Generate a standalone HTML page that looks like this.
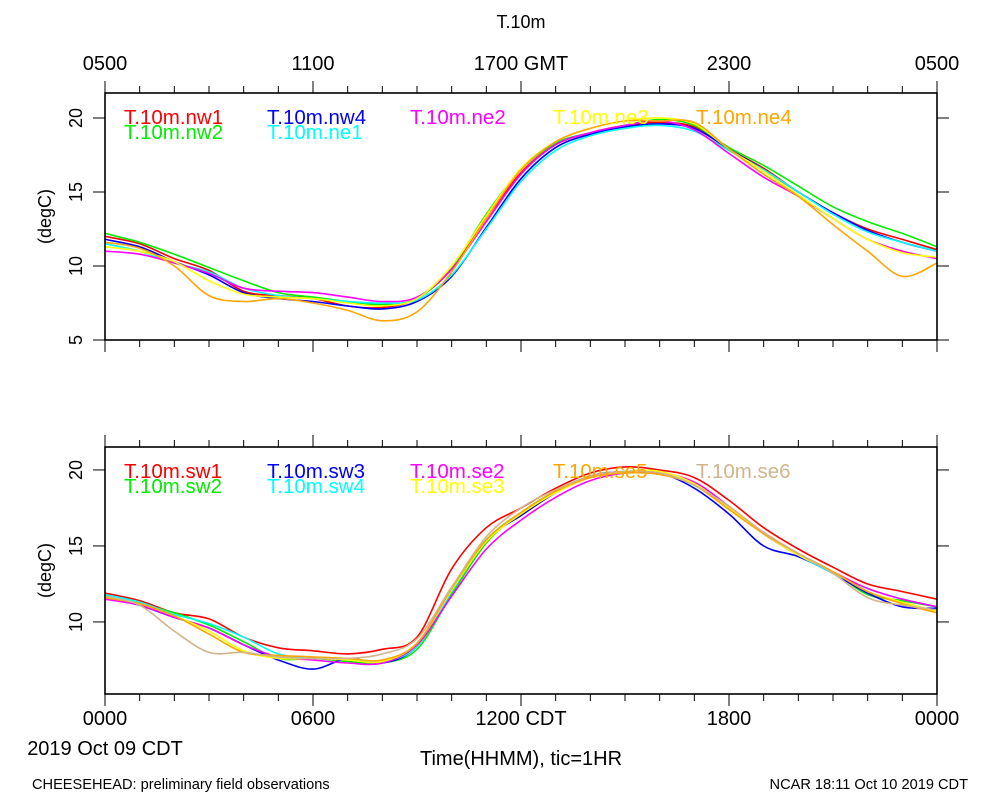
<!DOCTYPE html>
<html><head><meta charset="utf-8"><style>
html,body{margin:0;padding:0;background:#fff;}
svg{display:block;font-family:"Liberation Sans",sans-serif;}
</style></head><body>
<svg id="chart" width="1000" height="800" viewBox="0 0 1000 800">
<text x="521" y="28" font-size="18" text-anchor="middle">T.10m</text>
<text x="32" y="789" font-size="14.6">CHEESEHEAD: preliminary field observations</text>
<text x="968" y="789" font-size="14.6" text-anchor="end">NCAR 18:11 Oct 10 2019 CDT</text>
<text x="105" y="755" font-size="20" text-anchor="middle">2019 Oct 09 CDT</text>
<text x="521" y="765" font-size="20" text-anchor="middle">Time(HHMM), tic=1HR</text>
<g id="g"></g>
</svg>
<script>
const hours = [0,1,2,3,4,5,6,7,8,9,10,11,12,13,14,15,16,17,18,19,20,21,22,23,24];
const topLabels = ["0500","1100","1700 GMT","2300","0500"];
const bottomLabels = ["0000","0600","1200 CDT","1800","0000"];
const topYTicks = [5,10,15,20];
const bottomYTicks = [10,15,20];
const topNames = ["T.10m.nw1","T.10m.nw2","T.10m.nw4","T.10m.ne1","T.10m.ne2","T.10m.ne3","T.10m.ne4"];
const topColors = ["#ff0000","#00ee00","#0000ff","#00ffff","#ff00ff","#ffff00","#ffa500"];
const topLegendSlots = [[0,0],[0,1],[1,0],[1,1],[2,0],[3,0],[4,0]];
const nw1 = [12.0,11.5,10.5,9.7,8.3,8.0,7.8,7.3,7.2,7.8,9.8,13.2,16.3,18.2,19.0,19.5,19.7,19.4,17.9,16.6,15.0,13.6,12.5,11.8,11.1];
const nw2 = [12.2,11.6,10.8,9.9,9.0,8.2,7.9,7.6,7.4,7.8,9.9,13.5,16.5,18.3,19.0,19.5,19.9,19.5,18.0,16.8,15.4,14.0,13.0,12.2,11.3];
const nw4 = [11.8,11.3,10.3,9.4,8.2,7.8,7.6,7.3,7.1,7.6,9.3,12.6,15.9,18.0,18.9,19.4,19.6,19.3,17.9,16.5,15.0,13.6,12.4,11.6,11.0];
const ne1 = [11.5,11.0,10.2,9.6,8.5,8.0,7.8,7.6,7.5,7.7,9.4,12.5,15.7,17.8,18.8,19.3,19.5,19.1,17.8,16.5,15.0,13.5,12.3,11.6,11.0];
const ne2 = [11.0,10.8,10.2,9.5,8.5,8.3,8.2,7.9,7.6,7.9,9.8,13.0,16.2,18.2,19.0,19.5,19.8,19.2,17.6,16.0,14.7,13.2,11.8,11.0,10.5];
const ne3 = [11.3,11.0,10.3,9.0,8.1,7.9,7.8,7.5,7.3,7.8,10.0,13.4,16.6,18.4,19.3,19.8,20.0,19.6,17.9,16.4,14.8,13.2,11.8,10.9,10.6];
const ne4 = [11.6,11.2,10.0,8.0,7.6,7.8,7.5,7.0,6.3,6.9,9.6,13.2,16.5,18.4,19.3,19.8,19.8,19.7,17.9,16.2,14.7,12.8,11.0,9.3,10.2];
const bottomNames = ["T.10m.sw1","T.10m.sw2","T.10m.sw3","T.10m.sw4","T.10m.se2","T.10m.se3","T.10m.se5","T.10m.se6"];
const bottomColors = ["#ff0000","#00ee00","#0000ff","#00ffff","#ff00ff","#ffff00","#ffa500","#d2b48c"];
const bottomLegendSlots = [[0,0],[0,1],[1,0],[1,1],[2,0],[2,1],[3,0],[4,0]];
const sw1 = [11.9,11.4,10.6,10.2,9.0,8.3,8.1,7.9,8.2,9.0,13.5,16.2,17.5,18.8,19.8,20.2,20.0,19.5,18.0,16.2,14.8,13.6,12.5,12.0,11.5];
const sw2 = [11.7,11.2,10.6,9.8,8.7,7.6,7.6,7.4,7.3,8.2,11.8,15.2,17.2,18.6,19.5,19.9,19.9,19.1,17.6,15.8,14.5,13.3,11.8,11.4,11.0];
const sw3 = [11.7,11.1,10.3,9.6,8.5,7.5,6.9,7.6,7.3,8.4,12.0,15.4,17.0,18.5,19.6,19.9,19.8,18.8,17.1,15.0,14.3,13.2,11.9,11.0,10.9];
const sw4 = [11.8,11.3,10.5,9.9,9.0,7.9,7.6,7.6,7.4,8.4,12.0,15.4,17.2,18.6,19.5,19.9,19.8,19.0,17.5,15.9,14.4,13.2,12.2,11.5,11.0];
const se2 = [11.5,11.1,10.3,9.6,8.5,7.7,7.5,7.3,7.3,8.5,11.7,14.8,16.7,18.2,19.3,19.8,19.8,19.2,17.6,15.8,14.4,13.3,12.2,11.5,11.0];
const se3 = [11.6,11.2,10.4,9.4,8.1,7.6,7.6,7.5,7.4,8.6,12.1,15.3,17.1,18.5,19.5,19.9,19.9,19.1,17.5,15.8,14.4,13.3,12.0,11.3,10.7];
const se5 = [11.6,11.2,10.4,9.2,8.0,7.8,7.7,7.6,7.5,8.6,12.2,15.4,17.2,18.6,19.5,19.8,19.7,19.0,17.4,15.8,14.5,13.3,12.0,11.2,10.6];
const se6 = [11.7,11.1,9.4,8.0,8.0,7.7,7.6,7.6,7.9,8.9,12.3,15.6,17.5,18.7,19.6,19.9,19.8,19.0,17.6,15.9,14.5,13.2,11.6,11.1,10.8];
const topSeries = [nw1,nw2,nw4,ne1,ne2,ne3,ne4];
const bottomSeries = [sw1,sw2,sw3,sw4,se2,se3,se5,se6];

const NS = "http://www.w3.org/2000/svg";
const G = document.getElementById("g");
function mk(tag, attrs, parent){const e=document.createElementNS(NS,tag);for(const k in attrs)e.setAttribute(k,attrs[k]);(parent||G).appendChild(e);return e;}
const X0=105, X1=937;
function xs(h){return X0+(X1-X0)*h/24;}
function smoothPath(P){
  let d="M"+P[0][0].toFixed(1)+","+P[0][1].toFixed(1);
  for(let i=0;i<P.length-1;i++){
    const p0=P[Math.max(0,i-1)],p1=P[i],p2=P[i+1],p3=P[Math.min(P.length-1,i+2)];
    const c1=[p1[0]+(p2[0]-p0[0])/6,p1[1]+(p2[1]-p0[1])/6];
    const c2=[p2[0]-(p3[0]-p1[0])/6,p2[1]-(p3[1]-p1[1])/6];
    d+=` C${c1[0].toFixed(1)},${c1[1].toFixed(1)} ${c2[0].toFixed(1)},${c2[1].toFixed(1)} ${p2[0].toFixed(1)},${p2[1].toFixed(1)}`;
  }
  return d;
}

function panel(key, top, bot, vTop, vBot, yTicks, series, colors, names, slots, topAxisLabels, bottomAxisLabels){
  const ys = v => bot - (v - vBot)*(bot-top)/(vTop-vBot);
  const pg = mk("g",{});
  
  
  for(let h=0;h<=24;h++){
    const major = h%6===0;
    const t1 = mk("line",{x1:xs(h),x2:xs(h),y1:top,y2:top-(major?12:7),stroke:"#000","stroke-width":1},pg);
    
    
    const t2 = mk("line",{x1:xs(h),x2:xs(h),y1:bot,y2:bot+(major?12:7),stroke:"#000","stroke-width":1},pg);
    
    
  }
  yTicks.forEach(v=>{
    const y=ys(v);
    const l=mk("line",{x1:X0-12,x2:X0,y1:y,y2:y,stroke:"#000","stroke-width":1},pg);
    
    
    const r=mk("line",{x1:X1,x2:X1+12,y1:y,y2:y,stroke:"#000","stroke-width":1},pg);
    
    
    const t=mk("text",{x:0,y:0,"font-size":18,"text-anchor":"middle",transform:`translate(82,${y}) rotate(-90)`},pg);
    t.textContent=v;
    
    
  });
  const yt=mk("text",{x:0,y:0,"font-size":18,"text-anchor":"middle",transform:`translate(51,${(top+bot)/2}) rotate(-90)`},pg);
  yt.textContent="(degC)";
  
  
  if(topAxisLabels){topAxisLabels.forEach((s,i)=>{const t=mk("text",{x:xs(i*6),y:70,"font-size":20,"text-anchor":"middle"},pg);t.textContent=s;
    
    });}
  if(bottomAxisLabels){bottomAxisLabels.forEach((s,i)=>{const t=mk("text",{x:xs(i*6),y:725,"font-size":20,"text-anchor":"middle"},pg);t.textContent=s;
    
    });}
  series.forEach((arr,i)=>{
    const P=arr.map((v,j)=>[xs(hours[j]),ys(v)]);
    const p=mk("path",{d:smoothPath(P),fill:"none",stroke:colors[i],"stroke-width":1.6,"stroke-linejoin":"round"},pg);
    
    
  });
  names.forEach((n,i)=>{
    const col=slots[i][0], row=slots[i][1];
    const t=mk("text",{x:124+col*143,y:top+31+row*15,"font-size":20.5,fill:colors[i]},pg);
    t.textContent=n;
    
    
  });
  const box=mk("rect",{x:X0,y:top,width:X1-X0,height:bot-top,fill:"none",stroke:"#000","stroke-width":1.6},pg);
  
  
}
panel("top",93,340,21.69,5,topYTicks,topSeries,topColors,topNames,topLegendSlots,topLabels,null);
panel("bottom",447,694,21.51,5.26,bottomYTicks,bottomSeries,bottomColors,bottomNames,bottomLegendSlots,null,bottomLabels);
</script>
</body></html>
